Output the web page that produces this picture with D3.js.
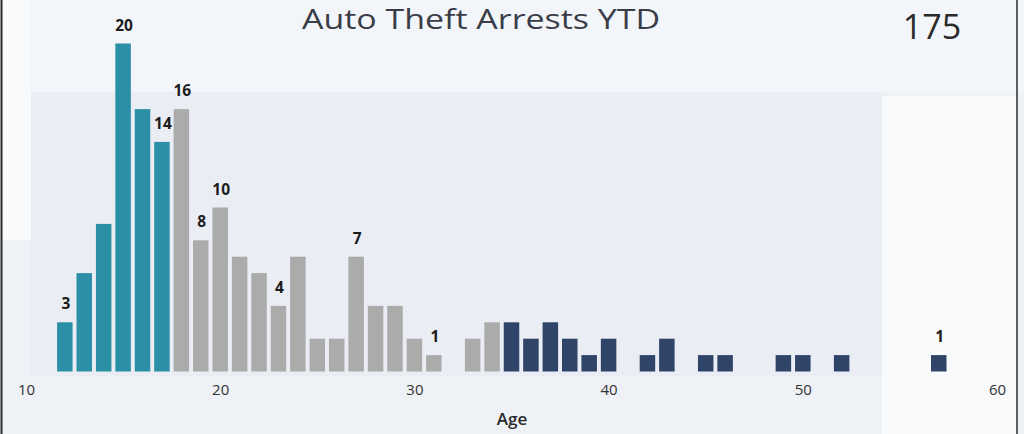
<!DOCTYPE html>
<html>
<head>
<meta charset="utf-8">
<script src="https://cdn.jsdelivr.net/npm/d3@7"></script>
<style>
  html, body { margin: 0; padding: 0; background: #eef1f6; }
  svg { display: block; }
</style>
</head>
<body>
<svg id="chart" width="1024" height="434"></svg>
<script>
// Arrests by age of the arrestee, year to date
const ages   = [12, 13, 14, 15, 16, 17, 18, 19, 20, 21, 22, 23, 24, 25, 26, 27, 28, 29, 30, 31, 33, 34, 35, 36, 37, 38, 39, 40, 42, 43, 45, 46, 49, 50, 52, 57];
const counts = [ 3,  6,  9, 20, 16, 14, 16,  8, 10,  7,  6,  4,  7,  2,  2,  7,  4,  4,  2,  1,  2,  3,  3,  2,  3,  2,  1,  2,  1,  2,  1,  1,  1,  1,  1,  1];
// Ages whose bar carries a value label
const labelledAges = [12, 15, 17, 18, 19, 20, 23, 27, 31, 57];
const xTicks = [10, 20, 30, 40, 50, 60];
const title = "Auto Theft Arrests YTD";
const totalLabel = "175";
const xTitle = "Age";

// Age groups: juvenile, 18-34, 35 and over
const groupColour = a => a < 18 ? "#2b8fa6" : (a < 35 ? "#ababab" : "#2f4468");

const svg = d3.select("#chart");
const data = ages.map((a, i) => ({ age: a, n: counts[i] }));

// Paper tones behind the chart
const bg = svg.append("g");
bg.append("rect").attr("x", 0).attr("y", 0).attr("width", 1024).attr("height", 434).attr("fill", "#eef1f6");
bg.append("rect").attr("x", 0).attr("y", 0).attr("width", 1024).attr("height", 92).attr("fill", "#f2f5f9");
bg.append("rect").attr("x", 30).attr("y", 92).attr("width", 852).attr("height", 284).attr("fill", "#eaedf4");
bg.append("rect").attr("x", 0).attr("y", 0).attr("width", 31).attr("height", 240).attr("fill", "#f8f9fb");
bg.append("rect").attr("x", 882).attr("y", 96).attr("width", 135).attr("height", 338).attr("fill", "#f9fafc");

const x = d3.scaleLinear().domain([10, 60]).range([26, 997]);
const y = d3.scaleLinear().domain([0, 20]).range([371.5, 43.5]);
const barW = 15.5;

svg.append("g").selectAll("rect")
  .data(data)
  .join("rect")
  .attr("x", d => x(d.age) - barW / 2)
  .attr("y", d => y(d.n))
  .attr("width", barW)
  .attr("height", d => y(0) - y(d.n))
  .attr("fill", d => groupColour(d.age));

svg.append("g").selectAll("text")
  .data(data.filter(d => labelledAges.includes(d.age)))
  .join("text")
  .attr("x", d => x(d.age) + 1)
  .attr("y", d => y(d.n) - 13)
  .attr("text-anchor", "middle")
  .attr("font-family", "'Open Sans', 'Noto Sans', sans-serif")
  .attr("font-weight", 700)
  .attr("font-size", 15.5)
  .attr("fill", "#1c1c1c")
  .text(d => d.n);

// Bottom axis: labels only
const axis = svg.append("g")
  .attr("transform", "translate(0,380)")
  .call(d3.axisBottom(x).tickValues(xTicks).tickSize(0).tickPadding(4).tickFormat(d3.format("d")));
axis.select(".domain").remove();
axis.selectAll("text")
  .attr("font-family", "'Open Sans', 'Noto Sans', sans-serif")
  .attr("font-size", 15)
  .attr("fill", "#333");

svg.append("text")
  .attr("x", 512).attr("y", 425)
  .attr("text-anchor", "middle")
  .attr("font-family", "'Open Sans', 'Noto Sans', sans-serif")
  .attr("font-weight", 600)
  .attr("font-size", 17)
  .attr("fill", "#2a2a2a")
  .text(xTitle);

svg.append("text")
  .attr("x", 481).attr("y", 29)
  .attr("text-anchor", "middle")
  .attr("font-family", "'Open Sans', 'Noto Sans', sans-serif")
  .attr("font-size", 28)
  .attr("textLength", 358)
  .attr("lengthAdjust", "spacingAndGlyphs")
  .attr("fill", "#3a3d48")
  .text(title);

svg.append("text")
  .attr("x", 932).attr("y", 39)
  .attr("text-anchor", "middle")
  .attr("font-family", "'Open Sans', 'Noto Sans', sans-serif")
  .attr("font-size", 34)
  .attr("fill", "#2a2a2a")
  .text(totalLabel);

// Frame edges
svg.append("line").attr("x1", 1.5).attr("x2", 1.5).attr("y1", 0).attr("y2", 434).attr("stroke", "#2a2a2a").attr("stroke-width", 2);
svg.append("line").attr("x1", 1017).attr("x2", 1017).attr("y1", 0).attr("y2", 434).attr("stroke", "#2a2a2a").attr("stroke-width", 1.5);
</script>
</body>
</html>
